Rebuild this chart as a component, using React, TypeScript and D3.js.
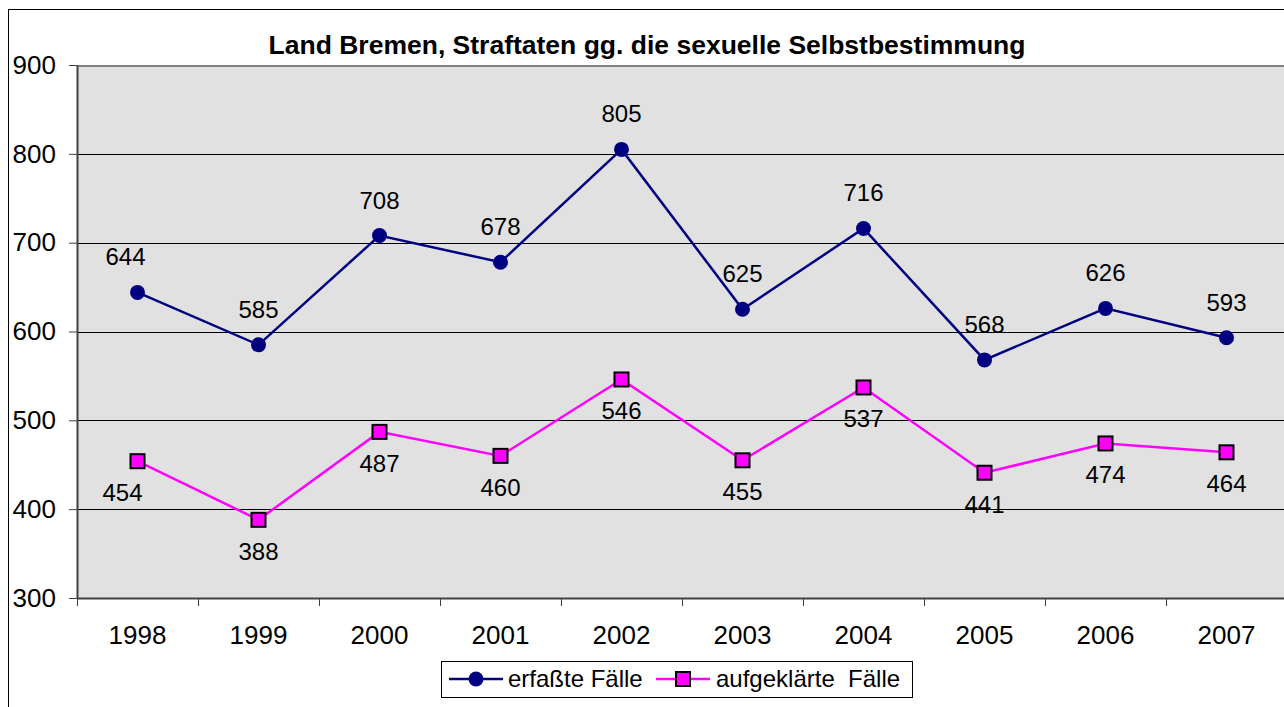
import React, { useEffect, useRef } from "react";
import * as d3 from "d3";

// chart data
const years = ["1998", "1999", "2000", "2001", "2002", "2003", "2004", "2005", "2006", "2007"];
const erfasst = [644, 585, 708, 678, 805, 625, 716, 568, 626, 593];
const aufgeklaert = [454, 388, 487, 460, 546, 455, 537, 441, 474, 464];
const yTicks = [300, 400, 500, 600, 700, 800, 900];

const FONT = "'Liberation Sans', Arial, sans-serif";

export default function App() {
  const ref = useRef<SVGSVGElement>(null);

  useEffect(() => {
    const svg = d3.select(ref.current);
    svg.selectAll("*").remove();

    const left = 77, right = 1287, top = 65, bottom = 598;

    const x = d3.scaleBand().domain(years).range([left, right]);
    const y = d3.scaleLinear().domain([300, 900]).range([bottom, top]);
    const cx = (d: string) => (x(d) as number) + x.bandwidth() / 2;

    // outer chart border
    svg.append("rect")
      .attr("x", 8.5).attr("y", 9.5)
      .attr("width", 1300).attr("height", 720)
      .attr("fill", "white").attr("stroke", "black").attr("stroke-width", 1);

    // plot area
    svg.append("rect")
      .attr("x", left).attr("y", top)
      .attr("width", right - left).attr("height", bottom - top)
      .attr("fill", "#e1e1e1");

    // grid lines
    svg.append("g").selectAll("line")
      .data(yTicks.filter(t => t > 300 && t < 900))
      .join("line")
      .attr("x1", left).attr("x2", right)
      .attr("y1", d => Math.round(y(d)) + 0.5).attr("y2", d => Math.round(y(d)) + 0.5)
      .attr("stroke", "black").attr("stroke-width", 1);

    // top border of plot
    svg.append("line")
      .attr("x1", left).attr("x2", right)
      .attr("y1", top + 1).attr("y2", top + 1)
      .attr("stroke", "#808080").attr("stroke-width", 2);

    // y axis
    const yAxis = svg.append("g")
      .attr("transform", `translate(${left},0)`)
      .call(d3.axisLeft(y).tickValues(yTicks).tickSize(8).tickPadding(13).tickSizeOuter(0));
    yAxis.select(".domain").attr("stroke", "#404040").attr("stroke-width", 2);
    yAxis.selectAll(".tick line").attr("stroke", "#404040");
    yAxis.selectAll("text")
      .attr("font-family", FONT).attr("font-size", 26).attr("fill", "black");

    // x axis
    const xAxis = svg.append("g")
      .attr("transform", `translate(0,${bottom})`)
      .call(d3.axisBottom(x).tickSize(0).tickPadding(28));
    xAxis.select(".domain").attr("stroke", "#404040").attr("stroke-width", 2);
    xAxis.selectAll("text")
      .attr("font-family", FONT).attr("font-size", 26).attr("fill", "black");
    // tick marks between categories
    svg.append("g").selectAll("line")
      .data(years)
      .join("line")
      .attr("x1", d => (x(d) as number) + 0.5).attr("x2", d => (x(d) as number) + 0.5)
      .attr("y1", bottom).attr("y2", bottom + 8)
      .attr("stroke", "#404040").attr("stroke-width", 1);

    // title
    svg.append("text")
      .attr("x", 647).attr("y", 54)
      .attr("text-anchor", "middle")
      .attr("font-family", FONT).attr("font-size", 26.5).attr("font-weight", "bold")
      .text("Land Bremen, Straftaten gg. die sexuelle Selbstbestimmung");

    const line = d3.line<number>()
      .x((d, i) => cx(years[i]))
      .y(d => y(d));

    // erfasste Fälle
    svg.append("path")
      .datum(erfasst)
      .attr("d", line)
      .attr("fill", "none").attr("stroke", "#000080").attr("stroke-width", 2.5);
    svg.append("g").selectAll("circle")
      .data(erfasst)
      .join("circle")
      .attr("cx", (d, i) => cx(years[i])).attr("cy", d => y(d))
      .attr("r", 7.5).attr("fill", "#000080");
    svg.append("g").selectAll("text")
      .data(erfasst)
      .join("text")
      .attr("x", (d, i) => cx(years[i]) - (i === 0 ? 12 : 0))
      .attr("y", d => y(d) - 27)
      .attr("text-anchor", "middle")
      .attr("font-family", FONT).attr("font-size", 24)
      .text(d => d);

    // aufgeklärte Fälle
    svg.append("path")
      .datum(aufgeklaert)
      .attr("d", line)
      .attr("fill", "none").attr("stroke", "#ff00ff").attr("stroke-width", 2.5);
    svg.append("g").selectAll("rect")
      .data(aufgeklaert)
      .join("rect")
      .attr("x", (d, i) => cx(years[i]) - 7).attr("y", d => y(d) - 7)
      .attr("width", 14).attr("height", 14)
      .attr("fill", "#ff00ff").attr("stroke", "black").attr("stroke-width", 2);
    svg.append("g").selectAll("text")
      .data(aufgeklaert)
      .join("text")
      .attr("x", (d, i) => cx(years[i]) - (i === 0 ? 15 : 0))
      .attr("y", d => y(d) + 40)
      .attr("text-anchor", "middle")
      .attr("font-family", FONT).attr("font-size", 24)
      .text(d => d);

    // legend
    const lg = svg.append("g");
    lg.append("rect")
      .attr("x", 441.5).attr("y", 661.5).attr("width", 471).attr("height", 36)
      .attr("fill", "white").attr("stroke", "black").attr("stroke-width", 1);
    lg.append("line")
      .attr("x1", 449).attr("x2", 503).attr("y1", 679).attr("y2", 679)
      .attr("stroke", "#000080").attr("stroke-width", 2.5);
    lg.append("circle").attr("cx", 476).attr("cy", 679).attr("r", 7.5).attr("fill", "#000080");
    lg.append("text")
      .attr("x", 508).attr("y", 687)
      .attr("font-family", FONT).attr("font-size", 24)
      .text("erfaßte Fälle");
    lg.append("line")
      .attr("x1", 656).attr("x2", 710).attr("y1", 679).attr("y2", 679)
      .attr("stroke", "#ff00ff").attr("stroke-width", 2.5);
    lg.append("rect")
      .attr("x", 676).attr("y", 672).attr("width", 14).attr("height", 14)
      .attr("fill", "#ff00ff").attr("stroke", "black").attr("stroke-width", 2);
    lg.append("text")
      .attr("x", 716).attr("y", 687)
      .attr("font-family", FONT).attr("font-size", 24)
      .attr("xml:space", "preserve")
      .style("white-space", "pre")
      .text("aufgeklärte  Fälle");
  }, []);

  return (
    <svg
      ref={ref}
      width={1284}
      height={707}
      style={{ position: "absolute", left: 0, top: 0, display: "block" }}
    />
  );
}
